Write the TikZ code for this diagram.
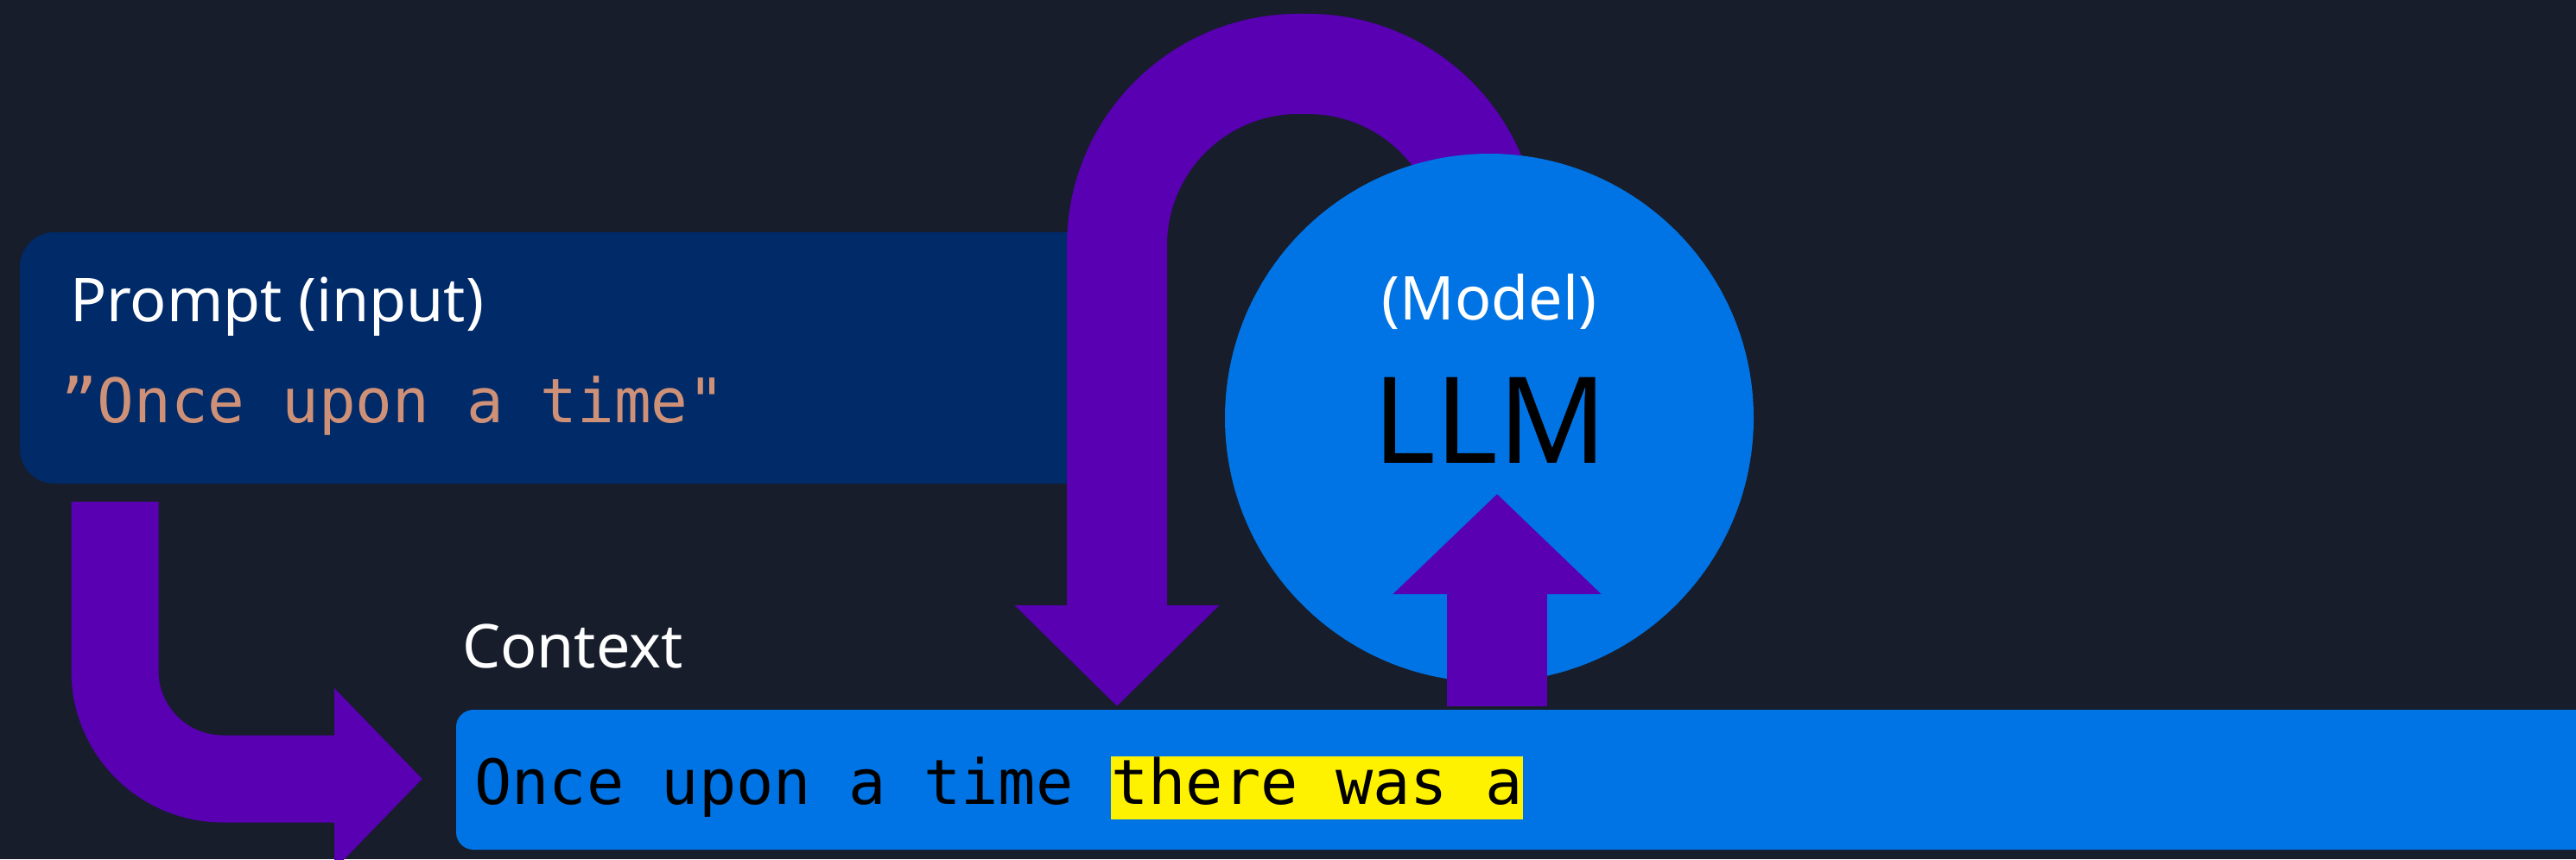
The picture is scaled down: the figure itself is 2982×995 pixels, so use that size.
\documentclass[tikz,border=0pt]{standalone}
\usepackage{fontspec}
\setmainfont{Noto Sans}
\newfontfamily\codefont{DejaVu Sans Mono}
\usetikzlibrary{arrows.meta}
\definecolor{bg}{HTML}{171D2B}
\definecolor{navy}{HTML}{002A68}
\definecolor{brightblue}{HTML}{0074E4}
\definecolor{violetband}{HTML}{5800B2}
\definecolor{salmon}{HTML}{CE9178}
\begin{document}
\begin{tikzpicture}[x=0.25pt,y=-0.25pt,
  panel/.style={rectangle, inner sep=0, outer sep=0, draw=none},
  sanslbl/.style={inner sep=0, outer sep=0, text=white, font=\fontsize{17.5pt}{20pt}\selectfont},
  codelbl/.style={inner sep=0, outer sep=0, font=\codefont\fontsize{18pt}{20pt}\selectfont},
  band/.style={draw=violetband, line cap=butt, line join=miter}
]
\useasboundingbox (0,0) rectangle (2982,995);
\clip (0,0) rectangle (2982,995);
\fill[bg] (0,0) rectangle (2982,995);

% prompt box
\node[panel, fill=navy, rounded corners=10pt, minimum width=319.25pt, minimum height=72.75pt] (prompt) at (661.5,414.5) {};
\node[sanslbl, anchor=base west] (prompttitle) at (81,372) {Prompt (input)};
\node[codelbl, anchor=base west, text=salmon, font=\codefont\fontsize{17.75pt}{20pt}\selectfont] (prompttext) at (70,489) {”Once upon a time"};

% coordinates for connectors
\coordinate (lstart) at (133,581);
\coordinate (ltip) at (489,902);
\coordinate (llmc) at (1724,484);
\coordinate (utip) at (1293,818);
\coordinate (upstart) at (1733,818);
\coordinate (uptip) at (1733,572);

% context bar
\node[panel, fill=brightblue, rounded corners=5pt, minimum width=628pt, minimum height=40.5pt] (context) at (1784,903) {};
\node[sanslbl, anchor=base west] (contextlbl) at (535,773) {Context};
\node[codelbl, anchor=base west, text=black] (ctxa) at (549,931) {Once upon a time};
\node[codelbl, anchor=base west, text=black, fill=yellow, text height=13.75pt, text depth=4.5pt] (ctxb) at (1286,931) {there was a};

% L arrow: prompt -> context
\draw[band, line width=25.25pt, rounded corners=31.25pt, -{Triangle[width=51pt,length=25.5pt]}] (lstart) |- (ltip);

% U arrow: LLM -> context
\draw[band, line width=29pt, rounded corners=52.5pt, -{Triangle[width=57.5pt,length=29.25pt]}] (llmc) -- (1724,74) -- (1293,74) -- (utip);

% LLM circle
\node[circle, fill=brightblue, inner sep=0, minimum size=153pt] (llm) at (llmc) {};
\node[sanslbl, anchor=base] (modellbl) at (1724,370) {(Model)};
\node[inner sep=0, anchor=base, text=black, font=\fontsize{34.75pt}{38pt}\selectfont] (llmlbl) at (1725,536) {LLM};

% up arrow: context -> LLM
\draw[band, line width=29pt, -{Triangle[width=58.5pt,length=29pt]}] (upstart) -- (uptip);
\end{tikzpicture}
\end{document}
